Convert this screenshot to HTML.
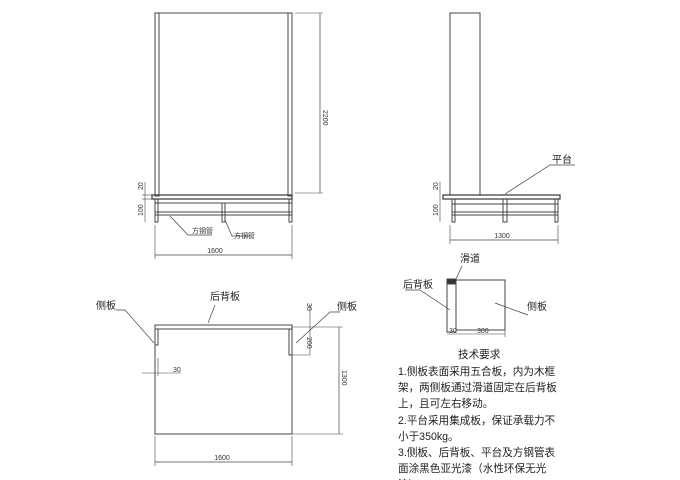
<!DOCTYPE html>
<html><head><meta charset="utf-8"><style>
html,body{margin:0;padding:0;background:#fff;}
svg{display:block;font-family:"Liberation Sans","Noto Sans CJK SC",sans-serif;}
</style></head><body>
<svg width="680" height="480" viewBox="0 0 680 480" xmlns="http://www.w3.org/2000/svg">
<g fill="none" stroke="#444" stroke-width="1">
<rect x="155" y="13" width="4" height="183"/>
<rect x="288" y="13" width="4" height="183"/>
<line x1="155" y1="13" x2="292" y2="13"/>
<rect x="152" y="195" width="140" height="4" stroke-width="1.3"/>
<rect x="155" y="199" width="137" height="4"/>
<rect x="155" y="212" width="137" height="3"/>
<rect x="155" y="199" width="3" height="23"/>
<rect x="289" y="199" width="3" height="23"/>
<rect x="222" y="203" width="3" height="19"/>
<line x1="295" y1="13" x2="323" y2="13" stroke-width=".6"/>
<line x1="295" y1="193" x2="323" y2="193" stroke-width=".6"/>
<line x1="320" y1="13" x2="320" y2="193" stroke-width=".7"/>
<line x1="155" y1="225" x2="155" y2="259" stroke-width=".6"/>
<line x1="292" y1="225" x2="292" y2="259" stroke-width=".6"/>
<line x1="155" y1="255" x2="292" y2="255" stroke-width=".7"/>
<line x1="145" y1="182" x2="145" y2="222" stroke-width=".6"/>
<line x1="142" y1="195" x2="155" y2="195" stroke-width=".6"/>
<line x1="142" y1="199" x2="155" y2="199" stroke-width=".6"/>
<polyline points="170,216 188,235 212,235" stroke-width=".7"/>
<polyline points="225,220 232,236 250,236" stroke-width=".7"/>
<rect x="450" y="13" width="30" height="182"/>
<rect x="443" y="195" width="117" height="4" stroke-width="1.3"/>
<rect x="452" y="199" width="106" height="5"/>
<rect x="452" y="212" width="106" height="3"/>
<rect x="452" y="199" width="3" height="23"/>
<rect x="503" y="199" width="4" height="23"/>
<rect x="555" y="199" width="3" height="23"/>
<line x1="450" y1="225" x2="450" y2="244" stroke-width=".6"/>
<line x1="558" y1="225" x2="558" y2="244" stroke-width=".6"/>
<line x1="450" y1="240" x2="558" y2="240" stroke-width=".7"/>
<line x1="440" y1="182" x2="440" y2="222" stroke-width=".6"/>
<polyline points="505,194 550,165 575,165" stroke-width=".7"/>
<rect x="155" y="325" width="137" height="4"/>
<rect x="155" y="329" width="3" height="16"/>
<rect x="289" y="329" width="3" height="26"/>
<rect x="155" y="325" width="137" height="109"/>
<line x1="292" y1="327" x2="343" y2="327" stroke-width=".6"/>
<line x1="292" y1="355" x2="310" y2="355" stroke-width=".6"/>
<line x1="292" y1="434" x2="343" y2="434" stroke-width=".6"/>
<line x1="339" y1="327" x2="339" y2="434" stroke-width=".7"/>
<line x1="310" y1="305" x2="310" y2="355" stroke-width=".6"/>
<line x1="155" y1="436" x2="155" y2="466" stroke-width=".6"/>
<line x1="292" y1="436" x2="292" y2="466" stroke-width=".6"/>
<line x1="155" y1="462" x2="292" y2="462" stroke-width=".7"/>
<line x1="142" y1="373" x2="181" y2="373" stroke-width=".6"/>
<line x1="158" y1="358" x2="158" y2="376" stroke-width=".6"/>
<polyline points="116,310 125,310 154,343" stroke-width=".7"/>
<polyline points="215,305 208,323" stroke-width=".7"/>
<polyline points="340,312 330,312 296,343" stroke-width=".7"/>
<rect x="447" y="280" width="9" height="52"/>
<rect x="456" y="280" width="49" height="50"/>
<rect x="447" y="279" width="9" height="5" fill="#333"/>
<line x1="447" y1="334" x2="505" y2="334" stroke-width=".6"/>
<line x1="505" y1="330" x2="505" y2="337" stroke-width=".6"/>
<polyline points="456,279 462,266" stroke-width=".7"/>
<polyline points="405,290 420,290 450,310" stroke-width=".7"/>
<polyline points="528,315 495,303" stroke-width=".7"/>
</g>
<g fill="#333" font-size="7">
<text x="323" y="110" transform="rotate(90 323 110)">2200</text>
<text x="143" y="190" transform="rotate(-90 143 190)">20</text>
<text x="143" y="216" transform="rotate(-90 143 216)">100</text>
<text x="215" y="253" text-anchor="middle">1600</text>
<text x="192" y="233">方钢管</text>
<text x="234" y="238">方钢管</text>
<text x="438" y="190" transform="rotate(-90 438 190)">20</text>
<text x="438" y="216" transform="rotate(-90 438 216)">100</text>
<text x="502" y="238" text-anchor="middle">1300</text>
<text x="342" y="370" transform="rotate(90 342 370)">1300</text>
<text x="307" y="303" transform="rotate(90 307 303)">30</text>
<text x="307" y="337" transform="rotate(90 307 337)">200</text>
<text x="173" y="372">30</text>
<text x="222" y="460" text-anchor="middle">1600</text>
<text x="449" y="333">30</text>
<text x="477" y="333">300</text>
</g>
<g fill="#222" font-size="10">
<text x="552" y="163">平台</text>
<text x="210" y="300">后背板</text>
<text x="337" y="310">侧板</text>
<text x="96" y="309">侧板</text>
<text x="460" y="262">滑道</text>
<text x="403" y="288">后背板</text>
<text x="527" y="310">侧板</text>
</g>
<g fill="#222" font-size="10.6">
<text x="458" y="358">技术要求</text>
<text x="398" y="375">1.侧板表面采用五合板，内为木框</text>
<text x="398" y="391">架，两侧板通过滑道固定在后背板</text>
<text x="398" y="407">上，且可左右移动。</text>
<text x="398" y="424">2.平台采用集成板，保证承载力不</text>
<text x="398" y="440">小于350kg。</text>
<text x="398" y="456">3.侧板、后背板、平台及方钢管表</text>
<text x="398" y="472">面涂黑色亚光漆（水性环保无光</text>
<text x="398" y="488">漆）。</text>
</g>
</svg>
</body></html>
